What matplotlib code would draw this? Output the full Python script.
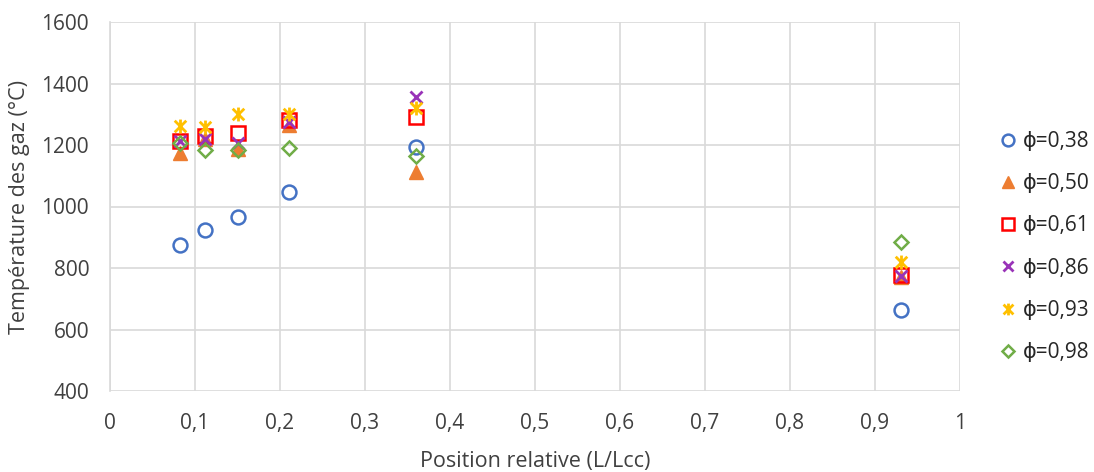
import matplotlib
matplotlib.use("Agg")
import matplotlib.pyplot as plt
from matplotlib.path import Path

# Data
positions = [0.082, 0.112, 0.15, 0.21, 0.36, 0.93]
labels = ["ϕ=0,38", "ϕ=0,50", "ϕ=0,61", "ϕ=0,86", "ϕ=0,93", "ϕ=0,98"]
t_038 = [875, 925, 967, 1046, 1195, 665]
t_050 = [1173, 1220, 1188, 1264, 1112, 770]
t_061 = [1212, 1228, 1238, 1280, 1290, 778]
t_086 = [1212, 1221, 1205, 1275, 1355, 775]
t_093 = [1262, 1260, 1300, 1302, 1320, 820]
t_098 = [1208, 1183, 1185, 1191, 1164, 884]
x_ticklabels = ["0", "0,1", "0,2", "0,3", "0,4", "0,5", "0,6", "0,7", "0,8", "0,9", "1"]

# Excel-style star: X with a vertical bar
star = Path(
    [(-1, -1), (1, 1), (-1, 1), (1, -1), (0, -1.2), (0, 1.2)],
    [Path.MOVETO, Path.LINETO, Path.MOVETO, Path.LINETO, Path.MOVETO, Path.LINETO],
)

plt.rcParams['font.family'] = ['Open Sans', 'DejaVu Sans']

fig = plt.figure(figsize=(10.94, 4.72), dpi=100)
ax = fig.add_axes([110 / 1094, 1 - 391 / 472, 850 / 1094, 369 / 472])

styles = [
    dict(marker='o', mfc='none', mec='#4472C4', ms=10, mew=1.8),
    dict(marker='^', mfc='#ED7D31', mec='#ED7D31', ms=10, mew=1),
    dict(marker='s', mfc='none', mec='#FF0000', ms=10, mew=1.8),
    dict(marker='x', mfc='none', mec='#9933B8', ms=9, mew=2),
    dict(marker=star, mfc='none', mec='#FFC000', ms=10, mew=2),
    dict(marker='D', mfc='none', mec='#70AD47', ms=7.5, mew=1.8),
]
series = [t_038, t_050, t_061, t_086, t_093, t_098]
for vals, lab, st in zip(series, labels, styles):
    ax.plot(positions, vals, linestyle='none', label=lab, **st)

ax.set_xlim(0, 1)
ax.set_ylim(400, 1600)
ax.set_xticks([i / 10 for i in range(11)])
ax.set_xticklabels(x_ticklabels)
ax.set_yticks(range(400, 1601, 200))
ax.grid(True, color='#D9D9D9', linewidth=1.2)
ax.set_axisbelow(True)
for s in ['top', 'right', 'bottom']:
    ax.spines[s].set_visible(False)
ax.spines['left'].set_color('#D9D9D9')
ax.spines['left'].set_linewidth(1.2)
ax.tick_params(length=0, labelsize=15, labelcolor='#404040')
ax.tick_params(axis='x', pad=16)
ax.tick_params(axis='y', pad=15)

ax.set_xlabel("Position relative (L/Lcc)", fontsize=15.5, color='#404040', labelpad=12)
ax.set_ylabel("Température des gaz (°C)", fontsize=15.5, color='#404040', labelpad=8)

leg = ax.legend(loc='center left', bbox_to_anchor=(1.022, 0.39), frameon=False,
                fontsize=15, labelspacing=1.02, handletextpad=0.2, handlelength=1.0,
                labelcolor='#262626', markerscale=0.85)

fig.savefig("out.png", dpi=100, facecolor='white')
